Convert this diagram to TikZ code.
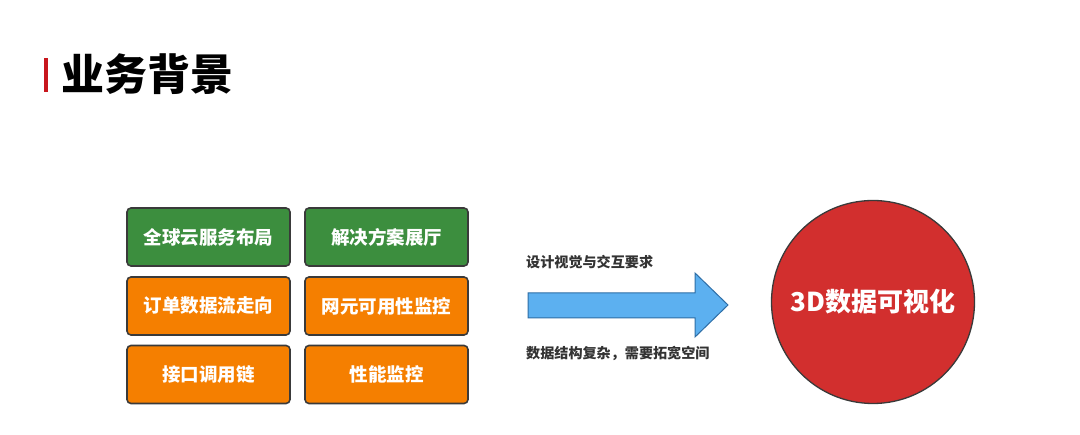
\documentclass[tikz,border=0pt]{standalone}
\usepackage{fontspec}
\newfontfamily\cjk{Noto Sans CJK SC}
\definecolor{boxgreen}{HTML}{3C8E3E}
\definecolor{boxorange}{HTML}{F57F00}
\definecolor{boxborder}{HTML}{3A3A3A}
\definecolor{circred}{HTML}{D22F2E}
\definecolor{arrowblue}{HTML}{5CB0F0}
\definecolor{arrowedge}{HTML}{2E6EA6}
\definecolor{titlered}{HTML}{C8161D}
\definecolor{labelgray}{HTML}{333333}
\begin{document}
\begin{tikzpicture}[x=1pt,y=-1pt,
  tile/.style={draw=boxborder,line width=1.6pt,rounded corners=4pt,minimum width=163pt,minimum height=58pt,inner sep=0pt,text=white,font=\cjk\bfseries\fontsize{18.5}{20}\selectfont},
  greentile/.style={tile,fill=boxgreen},
  orangetile/.style={tile,fill=boxorange},
  sidelabel/.style={anchor=west,inner sep=0pt,text=labelgray,font=\cjk\bfseries\fontsize{14.1}{16}\selectfont}]
\useasboundingbox (0,0) rectangle (1080,435);
\fill[white] (0,0) rectangle (1080,435);
% title
\fill[titlered] (44,58) rectangle (48,92) coordinate (bar);
\node[anchor=west,inner sep=0pt,font=\cjk\bfseries\fontsize{43}{46}\selectfont] (title) at (61,74) {业务背景};
% tiles
\node[greentile] (t1) at (208.5,237) {全球云服务布局};
\node[greentile] (t2) at (386.5,237) {解决方案展厅};
\node[orangetile] (t3) at (208.5,306) {订单数据流走向};
\node[orangetile] (t4) at (386.5,306) {网元可用性监控};
\node[orangetile] (t5) at (208.5,374.5) {接口调用链};
\node[orangetile] (t6) at (386.5,374.5) {性能监控};
% arrow
\draw[fill=arrowblue,draw=arrowedge,line width=1pt,line join=miter]
  (528,293) -- (695,293) -- (695,273) -- (728,305) -- (695,337) -- (695,318) -- (528,318) -- cycle;
\node[sidelabel] (l1) at (526,262) {设计视觉与交互要求};
\node[sidelabel] (l2) at (526,353) {数据结构复杂，需要拓宽空间};
% circle
\node[circle,draw=boxborder,line width=1.3pt,fill=circred,minimum size=203pt,inner sep=0pt,text=white,font=\cjk\bfseries\fontsize{26}{28}\selectfont] (c) at (873,302) {3D数据可视化};
\end{tikzpicture}
\end{document}
